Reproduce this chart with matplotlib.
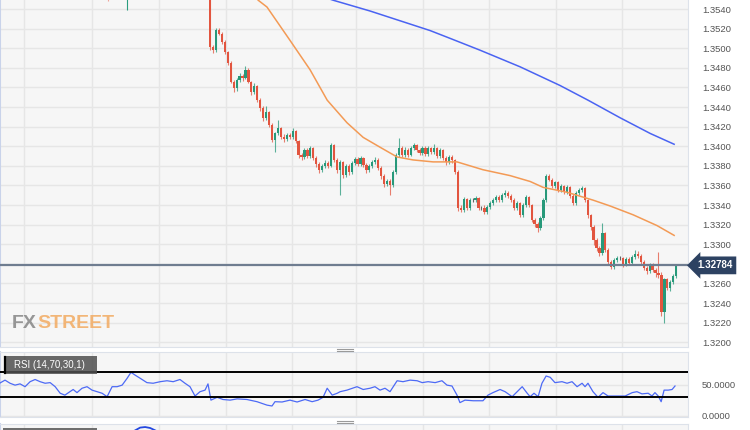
import numpy as np
import matplotlib
matplotlib.use("Agg")
from matplotlib import pyplot as plt
from matplotlib.lines import Line2D
from matplotlib.patches import Rectangle

# hourly candles (open of each candle = previous close)
first_open = 1.3562
closes = [1.3501, 1.3498, 1.3519, 1.3515, 1.3506, 1.3496, 1.3485, 1.3466, 1.3459, 1.3468,
          1.3472, 1.3470, 1.3478, 1.3466, 1.3455, 1.3461, 1.3447, 1.3439, 1.3429, 1.3435,
          1.3422, 1.3406, 1.3413, 1.3419, 1.3409, 1.3407, 1.3411, 1.3409, 1.3416, 1.3405,
          1.3391, 1.3389, 1.3396, 1.3390, 1.3398, 1.3388, 1.3382, 1.3376, 1.3380, 1.3383,
          1.3380, 1.3401, 1.3386, 1.3376, 1.3384, 1.3371, 1.3380, 1.3374, 1.3383, 1.3387,
          1.3382, 1.3388, 1.3381, 1.3376, 1.3380, 1.3384, 1.3386, 1.3378, 1.3370, 1.3361,
          1.3365, 1.3360, 1.3374, 1.3391, 1.3398, 1.3391, 1.3396, 1.3391, 1.3398, 1.3401,
          1.3396, 1.3393, 1.3398, 1.3392, 1.3398, 1.3394, 1.3398, 1.3390, 1.3396, 1.3388,
          1.3384, 1.3389, 1.3386, 1.3374, 1.3337, 1.3335, 1.3346, 1.3337, 1.3345, 1.3345,
          1.3347, 1.3337, 1.3337, 1.3333, 1.3338, 1.3342, 1.3345, 1.3348, 1.3345, 1.3350,
          1.3352, 1.3349, 1.3345, 1.3337, 1.3342, 1.3330, 1.3340, 1.3348, 1.3340, 1.3325,
          1.3321, 1.3317, 1.3327, 1.3345, 1.3370, 1.3366, 1.3359, 1.3363, 1.3355, 1.3359,
          1.3353, 1.3358, 1.3349, 1.3342, 1.3352, 1.3355, 1.3357, 1.3345, 1.3330, 1.3318,
          1.3304, 1.3296, 1.3291, 1.3311, 1.3294, 1.3282, 1.3277, 1.3284, 1.3286, 1.3286,
          1.3280, 1.3285, 1.3281, 1.3287, 1.3290, 1.3288, 1.3282, 1.3276, 1.3273, 1.3279,
          1.3274, 1.3271, 1.3269, 1.3231, 1.3264, 1.3255, 1.3261, 1.3268, 1.32784]
highs = [1.3565, 1.3503, 1.3521, 1.3521, 1.3517, 1.3508, 1.3497, 1.3487, 1.3468, 1.3470,
         1.3475, 1.3474, 1.3482, 1.3480, 1.3467, 1.3464, 1.3462, 1.3449, 1.3441, 1.3441,
         1.3436, 1.3424, 1.3415, 1.3427, 1.3420, 1.3412, 1.3413, 1.3413, 1.3419, 1.3417,
         1.3406, 1.3393, 1.3398, 1.3398, 1.3400, 1.3399, 1.3390, 1.3384, 1.3382, 1.3386,
         1.3385, 1.3403, 1.3402, 1.3388, 1.3386, 1.3385, 1.3382, 1.3382, 1.3385, 1.3389,
         1.3389, 1.3390, 1.3389, 1.3383, 1.3382, 1.3386, 1.3389, 1.3388, 1.3380, 1.3372,
         1.3367, 1.3367, 1.3376, 1.3393, 1.3408, 1.3400, 1.3399, 1.3398, 1.3400, 1.3403,
         1.3402, 1.3398, 1.3400, 1.3400, 1.3400, 1.3399, 1.3402, 1.3399, 1.3398, 1.3397,
         1.3390, 1.3391, 1.3391, 1.3387, 1.3376, 1.3340, 1.3348, 1.3347, 1.3347, 1.3347,
         1.3349, 1.3348, 1.3339, 1.3340, 1.3340, 1.3344, 1.3347, 1.3350, 1.3350, 1.3352,
         1.3355, 1.3354, 1.3351, 1.3347, 1.3344, 1.3343, 1.3342, 1.3350, 1.3349, 1.3341,
         1.3327, 1.3323, 1.3329, 1.3347, 1.3372, 1.3372, 1.3368, 1.3365, 1.3364, 1.3361,
         1.3360, 1.3360, 1.3359, 1.3351, 1.3354, 1.3357, 1.3359, 1.3358, 1.3346, 1.3331,
         1.3320, 1.3306, 1.3298, 1.3322, 1.3312, 1.3296, 1.3284, 1.3286, 1.3288, 1.3288,
         1.3287, 1.3287, 1.3287, 1.3289, 1.3294, 1.3293, 1.3290, 1.3284, 1.3278, 1.3281,
         1.3281, 1.3276, 1.3292, 1.3272, 1.3266, 1.3266, 1.3263, 1.3270, 1.3280]
lows = [1.3498, 1.3495, 1.3496, 1.3513, 1.3504, 1.3494, 1.3483, 1.3464, 1.3455, 1.3456,
        1.3466, 1.3467, 1.3469, 1.3464, 1.3452, 1.3453, 1.3445, 1.3436, 1.3426, 1.3427,
        1.3420, 1.3404, 1.3394, 1.3411, 1.3407, 1.3404, 1.3405, 1.3407, 1.3407, 1.3403,
        1.3388, 1.3386, 1.3387, 1.3388, 1.3388, 1.3386, 1.3379, 1.3373, 1.3374, 1.3378,
        1.3378, 1.3379, 1.3384, 1.3373, 1.3350, 1.3368, 1.3369, 1.3371, 1.3372, 1.3381,
        1.3380, 1.3380, 1.3379, 1.3373, 1.3374, 1.3378, 1.3382, 1.3376, 1.3367, 1.3358,
        1.3359, 1.3350, 1.3358, 1.3372, 1.3389, 1.3389, 1.3389, 1.3389, 1.3390, 1.3396,
        1.3394, 1.3391, 1.3391, 1.3390, 1.3390, 1.3392, 1.3392, 1.3388, 1.3388, 1.3386,
        1.3381, 1.3382, 1.3383, 1.3372, 1.3334, 1.3333, 1.3333, 1.3335, 1.3335, 1.3343,
        1.3343, 1.3335, 1.3335, 1.3331, 1.3331, 1.3336, 1.3340, 1.3343, 1.3343, 1.3343,
        1.3348, 1.3347, 1.3343, 1.3335, 1.3335, 1.3328, 1.3328, 1.3338, 1.3338, 1.3323,
        1.3318, 1.3312, 1.3315, 1.3325, 1.3343, 1.3364, 1.3357, 1.3357, 1.3353, 1.3353,
        1.3351, 1.3351, 1.3347, 1.3340, 1.3340, 1.3350, 1.3353, 1.3343, 1.3327, 1.3315,
        1.3299, 1.3293, 1.3288, 1.3289, 1.3292, 1.3280, 1.3275, 1.3275, 1.3282, 1.3284,
        1.3277, 1.3278, 1.3279, 1.3279, 1.3285, 1.3286, 1.3280, 1.3274, 1.3270, 1.3271,
        1.3272, 1.3267, 1.3266, 1.3227, 1.3220, 1.3253, 1.3252, 1.3259, 1.3266]

# older candles, mostly above the visible range
early_x = [-34.6, -28.1]
early_high = [1.3570, 1.3566]
early_low = [1.3548, 1.3539]
early_color = ["#f0a49a", "#2a9d7f"]

# moving averages
ma_fast_x = [13.6, 16.3, 19.3, 27.1, 33.9, 39.7, 46.4, 51.9, 57.6, 63.4, 68.8, 75.6, 83.7,
             92.5, 101.7, 108.5, 112.9, 121.0, 129.8, 135.6, 143.4, 151.5, 157.3]
ma_fast = [1.3560, 1.3549, 1.3542, 1.3508, 1.3478, 1.3447, 1.3424, 1.3409, 1.3399, 1.3389,
           1.3386, 1.3384, 1.3384, 1.3376, 1.3370, 1.3364, 1.3358, 1.3353, 1.3345, 1.3339,
           1.3330, 1.3319, 1.3309]
ma_slow_x = [33.9, 41.7, 54.2, 64.4, 74.6, 81.4, 91.5, 105.1, 118.6, 128.1, 139.0, 149.2, 157.3]
ma_slow = [1.3557, 1.3549, 1.3538, 1.3528, 1.3518, 1.3510, 1.3498, 1.3481, 1.3462, 1.3447,
           1.3429, 1.3413, 1.3402]

last_price = 1.32784

rsi_x = [-71.2, -69.5, -67.8, -66.1, -64.4, -62.7, -61.0, -59.3, -57.6, -55.9, -54.2, -52.5,
         -50.8, -49.2, -47.5, -46.4, -45.1, -43.4, -41.7, -40.0, -38.3, -36.6, -34.9, -33.2,
         -31.5, -29.8, -28.1, -26.8, -25.4, -23.7, -21.4, -19.3, -16.9, -14.6, -12.5, -10.2,
         -8.5, -6.8, -5.1, -3.4, -1.7, -0.7, 0.3, 2.4, 4.4, 6.8, 9.2, 12.5, 15.9, 19.3, 21.0,
         22.0, 24.4, 27.1, 29.5, 32.2, 34.6, 36.6, 38.3, 39.7, 41.4, 43.1, 44.1, 46.4, 49.8,
         51.9, 54.2, 55.9, 57.6, 59.3, 61.0, 63.4, 65.4, 67.8, 70.2, 71.9, 73.9, 76.3, 78.6,
         80.3, 82.0, 83.7, 84.7, 86.4, 89.2, 92.5, 94.2, 95.9, 98.3, 100.0, 102.4, 104.1,
         105.8, 107.5, 108.5, 109.8, 111.2, 112.5, 113.9, 115.3, 116.9, 119.3, 121.0, 122.7,
         124.4, 126.1, 127.1, 128.1, 129.8, 131.5, 133.2, 134.9, 137.3, 140.7, 143.1, 144.7,
         146.4, 148.5, 149.8, 150.8, 151.9, 152.9, 153.9, 155.3, 156.6, 157.6]
rsi = [52.4, 57, 52, 49, 51, 46.5, 54.5, 58, 54.5, 52, 53, 46.5,
       36, 33, 38.5, 42, 37, 44, 46.5, 41, 38.5, 36, 30.5, 46.5,
       46.5, 49, 60, 69.5, 65, 60, 53, 52, 54.5, 56, 54.5, 58,
       52, 46.5, 31.6, 38.5, 41, 51, 25, 29.5, 26, 25, 27, 26, 22.5, 17, 15.6,
       22.5, 22, 25, 22, 26, 22.5, 25, 29.5, 44, 33, 36, 38.5, 41, 46.5,
       42, 44, 46.5, 41, 44, 38.5, 56, 54.5, 57, 56, 53, 54.5, 53, 56,
       49, 47.6, 33, 21, 25, 24, 24, 33, 37, 42, 38.5, 30.5, 38.5,
       46.5, 36, 30.5, 36, 30.5, 52, 63.6, 61.5, 53, 54.5, 52, 54.5,
       46.5, 52, 46.5, 52, 38.5, 29.5, 37, 31.6, 31.6, 31.6, 37, 38.5,
       35, 36, 31.6, 37, 31.6, 22.5, 41, 41, 42, 47.6]

# sliver of the next indicator pane
lower_x = [-25.4, -23.7, -22.0, -20.3, -18.6]
lower_y = [0.2, 0.55, 0.62, 0.5, 0.2]

day_lines = [-63.1, -40.0, -17.3, 5.4, 27.8, 49.5, 72.2, 94.6, 117.3, 139.7]
price_ticks = np.arange(1.3200, 1.35405, 0.002)

RED, GREEN, DOJI = "#e2553f", "#27997a", "#333333"
BG, GRID = "#f6f6f6", "#e6e6e6"
W, H = 750, 430


def px_box(x0, y0, x1, y1):
    return [x0 / W, 1 - y1 / H, (x1 - x0) / W, (y1 - y0) / H]


fig = plt.figure(figsize=(7.5, 4.3), dpi=100)
fig.patch.set_facecolor("white")

ax = fig.add_axes(px_box(0, 0, 688, 347))
rax = fig.add_axes(px_box(0, 352, 688, 417))
lax = fig.add_axes(px_box(0, 424, 688, 432))

for a in (ax, rax, lax):
    a.set_facecolor(BG)
    a.set_xlim(-71.2, 162.0)
    a.set_xticks(day_lines)
    a.tick_params(axis="x", length=0, labelbottom=False)
    a.grid(True, color=GRID, lw=1)
    a.set_axisbelow(True)
    for s in a.spines.values():
        s.set_color("#dde2ea")
    a.spines["left"].set_color("#c9d3ea")
    a.spines["left"].set_linewidth(1.5)
ax.spines["top"].set_visible(False)

# candles
c = np.array(closes)
o = np.r_[first_open, c[:-1]]
hi = np.array(highs)
lo = np.array(lows)
xi = np.arange(len(c))
cols = np.where(c > o, GREEN, np.where(c < o, RED, DOJI))
ax.vlines(xi, lo, hi, colors=cols, lw=0.8, alpha=0.75, zorder=3)
ax.bar(xi, np.maximum(np.abs(c - o), 0.00004), bottom=np.minimum(o, c), width=0.75,
       color=cols, zorder=3)
ax.vlines(early_x, early_low, early_high, colors=early_color, lw=0.8, zorder=3)

ax.plot(ma_fast_x, ma_fast, color="#f39a55", lw=1.1, zorder=4)
ax.plot(ma_slow_x, ma_slow, color="#4a63f2", lw=1.1, zorder=4)

ax.axhline(last_price, color="#6f7d90", lw=1.6, zorder=5)

ax.set_ylim(1.31951, 1.35492)
ax.set_yticks(price_ticks)
# the 1.3280 label sits under the last-price tag
ax.set_yticklabels(["" if abs(v - 1.328) < 1e-6 else f"{v:.4f}" for v in price_ticks])
ax.yaxis.tick_right()
ax.tick_params(axis="y", length=0, pad=10, labelsize=6.8, labelcolor="#555555")
for t in ax.get_yticklabels():
    t.set_family("Liberation Sans")

ax.text(1.0 + 9 / 688, last_price, "1.32784", transform=ax.get_yaxis_transform(),
        ha="left", va="center", color="white", fontsize=7, fontweight="bold",
        family="Liberation Sans", clip_on=False, zorder=10,
        bbox=dict(boxstyle="larrow,pad=0.4", fc="#2d4262", ec="none"))

# watermark
fx = ax.text(12 / 688, (347 - 328) / 347, "FX", transform=ax.transAxes, fontsize=14,
             fontweight="bold", color="#8c8c8c", alpha=0.9, ha="left", va="baseline",
             family="Liberation Sans", zorder=2)
ax.annotate("STREET", xy=(1, 0), xycoords=fx, fontsize=14, fontweight="bold",
            color="#f2ab62", alpha=0.85, ha="left", va="bottom",
            family="Liberation Sans", zorder=2)

# RSI pane
rax.plot(rsi_x, rsi, color="#4d6af5", lw=0.9, zorder=3)
rax.axhline(70, color="black", lw=1.4, zorder=4)
rax.axhline(30, color="black", lw=1.4, zorder=4)
rax.set_ylim(-2, 102)
rax.set_yticks([0, 50])
rax.set_yticklabels(["0.0000", "50.0000"])
rax.yaxis.tick_right()
rax.tick_params(axis="y", length=0, pad=10, labelsize=6.8, labelcolor="#555555")
for t in rax.get_yticklabels():
    t.set_family("Liberation Sans")
rax.add_patch(Rectangle((4 / 688, 0.66), 93 / 688, 0.28, transform=rax.transAxes,
                        fc="#4f4f4f", ec="none", alpha=0.85, zorder=6))
rax.text(14 / 688, 0.80, "RSI (14,70,30,1)", transform=rax.transAxes, fontsize=7,
         color="white", family="Liberation Sans", va="center", ha="left", zorder=7)
rax.add_line(Line2D([5 / 688, 5 / 688], [0.67, 0.93], transform=rax.transAxes,
                    color="black", lw=1.6, zorder=8))

# lower pane sliver
lax.plot(lower_x, lower_y, color="#2448e0", lw=1.3)
lax.set_ylim(0, 1)
lax.set_yticks([])
lax.add_patch(Rectangle((3 / 688, 0.0), 94 / 688, 0.5, transform=lax.transAxes,
                        fc="#606060", ec="none", alpha=0.9))

# pane resize handles
for yy in (348.5, 350.5, 420.5, 422.5):
    fig.add_artist(Line2D([337 / W, 353 / W], [1 - yy / H, 1 - yy / H], color="#9a9a9a",
                          lw=0.8))

fig.savefig("out.png", dpi=100)
